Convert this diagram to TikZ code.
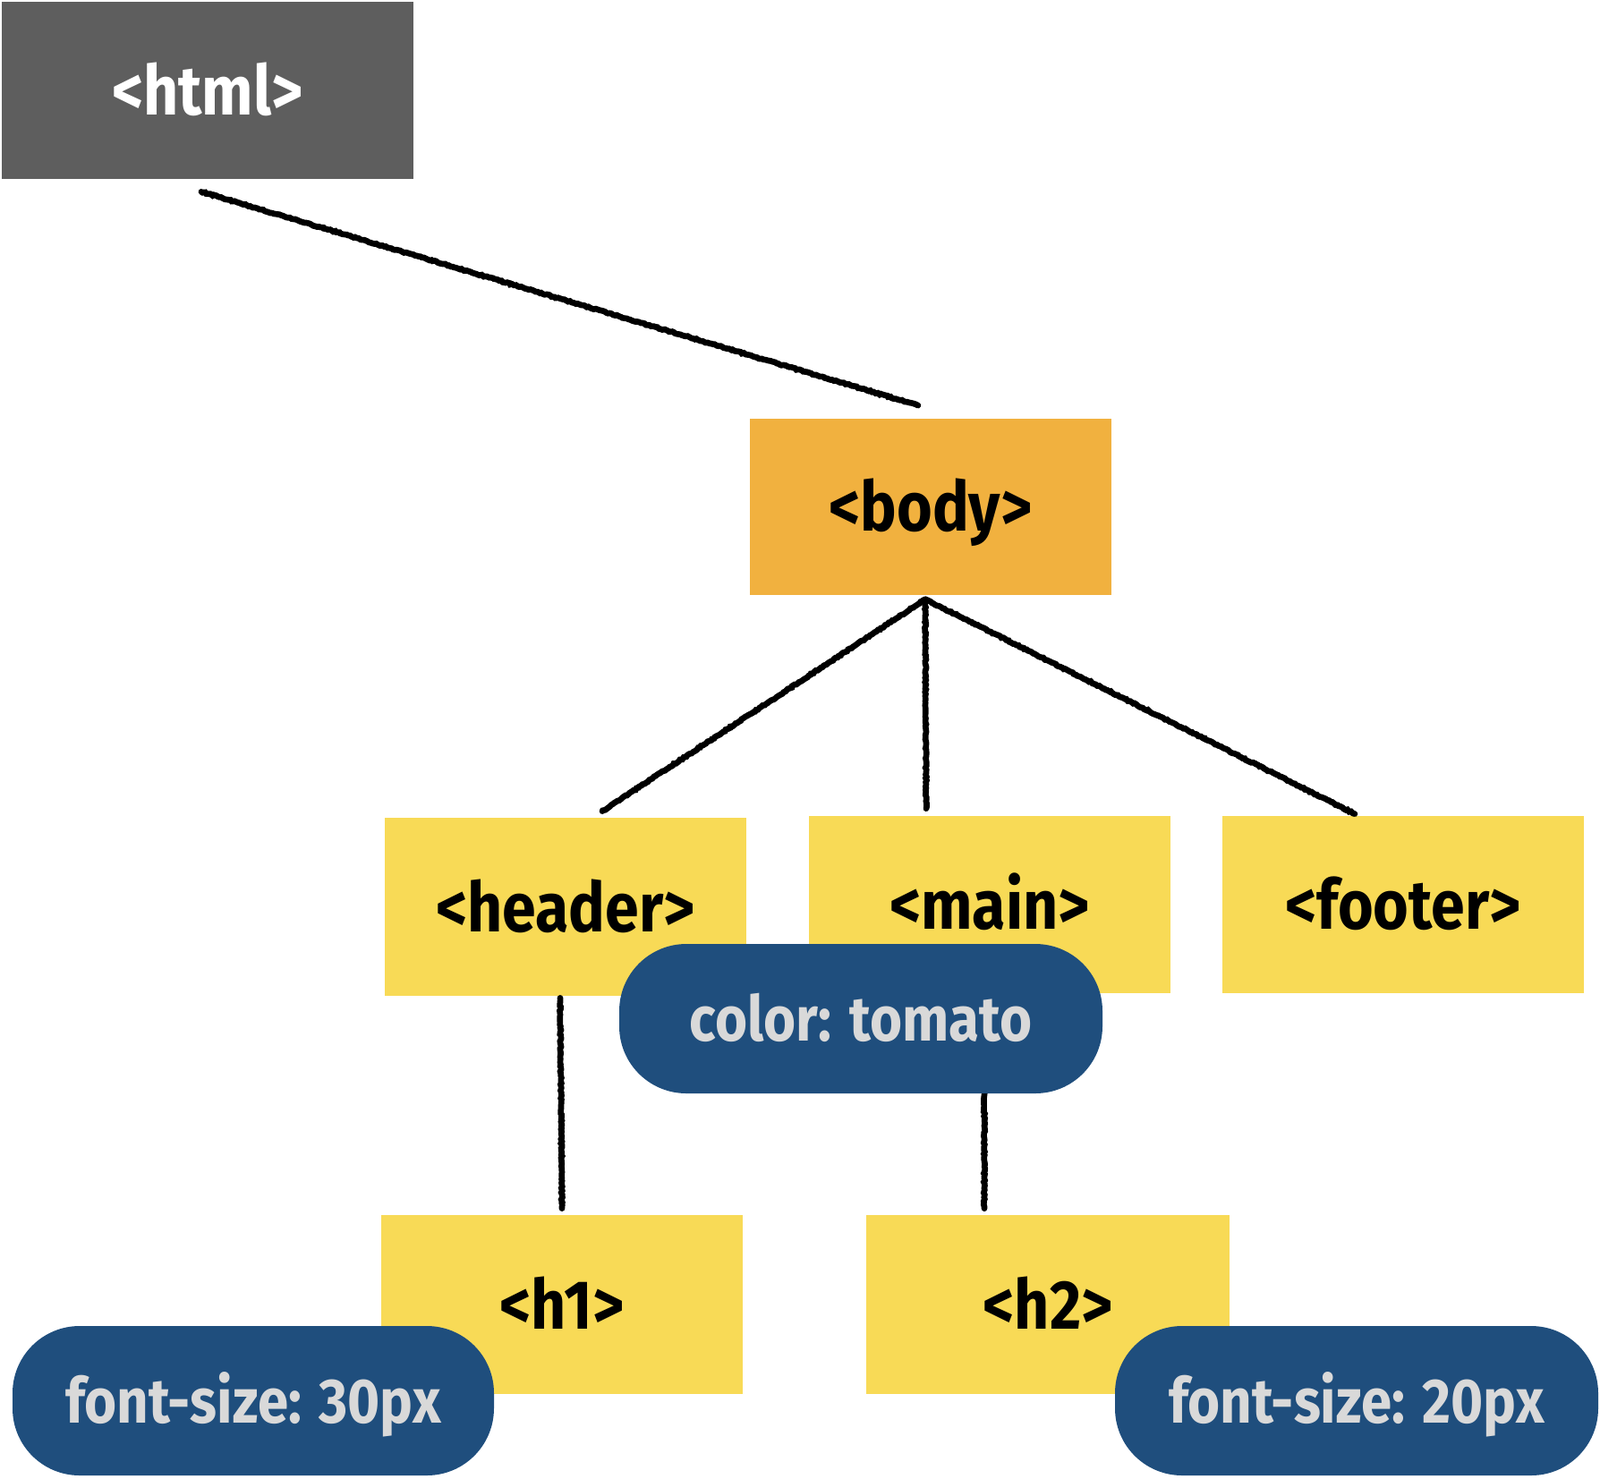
\documentclass[tikz,border=0pt]{standalone}
\usepackage{fontspec}
\setmainfont{Fira Sans}[UprightFont=* Bold, FakeStretch=0.88]
\usepackage{xcolor}
\usetikzlibrary{positioning, decorations.pathmorphing}
\definecolor{htmlgray}{HTML}{5E5E5E}
\definecolor{bodyorange}{HTML}{F1B13F}
\definecolor{tagyellow}{HTML}{F8DA56}
\definecolor{pillblue}{HTML}{1F4E7D}
\definecolor{pilltext}{HTML}{D9D9D9}

\begin{document}
\begin{tikzpicture}[
    tagbox/.style={fill=tagyellow, inner sep=0pt, minimum width=8.08cm, minimum height=3.96cm, text height=1.1cm, text depth=0pt, font=\fontsize{44}{50}\selectfont},
    pill/.style={fill=pillblue, text=pilltext, rounded corners=1.5cm, inner sep=0pt, minimum width=10.8cm, minimum height=3.34cm, text height=1cm, text depth=0pt, font=\fontsize{40}{46}\selectfont},
    link/.style={line width=3.8pt, line cap=round, decorate, decoration={random steps, segment length=1.2pt, amplitude=0.4pt}}]
    \useasboundingbox (0,0) rectangle (35.76,-33.04);
    \node[tagbox, fill=htmlgray, text=white, minimum width=9.2cm] (html) at (4.64,-2.02) {<html>};
    \node[tagbox, fill=bodyorange, minimum height=3.94cm] (body) at (20.8,-11.32) {<body>};
    \node[tagbox, minimum height=3.98cm] (header) at (12.64,-20.27) {<header>};
    \node[tagbox] (main) at (22.12,-20.22) {<main>};
    \node[tagbox] (footer) at (31.36,-20.22) {<footer>};
    \node[tagbox, minimum height=4cm] (hone) at (12.56,-29.16) {<h1>};
    \node[tagbox, minimum width=8.12cm, minimum height=4cm] (htwo) at (23.42,-29.16) {<h2>};
    \coordinate (fork) at ([shift={(-0.12,-0.1)}]body.south);
    \draw[link] ([shift={(-0.14,-0.28)}]html.south) -- ([shift={(-0.28,0.28)}]body.north);
    \draw[link] (fork) -- ([shift={(0.82,0.14)}]header.north);
    \draw[link] (fork) -- ([shift={(-1.42,0.16)}]main.north);
    \draw[link] (fork) -- ([shift={(-1.08,0.04)}]footer.north);
    \draw[link] ([shift={(-0.12,-0.04)}]header.south) -- ([shift={(0,0.14)}]hone.north);
    \draw[link] ([shift={(-0.12,-0.04)}]main.south) -- ([shift={(-1.42,0.14)}]htwo.north);
    \node[pill] (color) at (19.24,-22.77) {color: tomato};
    \node[pill, minimum width=10.76cm] (fsone) at (5.66,-31.31) {font-size: 30px};
    \node[pill] (fstwo) at (30.32,-31.31) {font-size: 20px};
\end{tikzpicture}
\end{document}
